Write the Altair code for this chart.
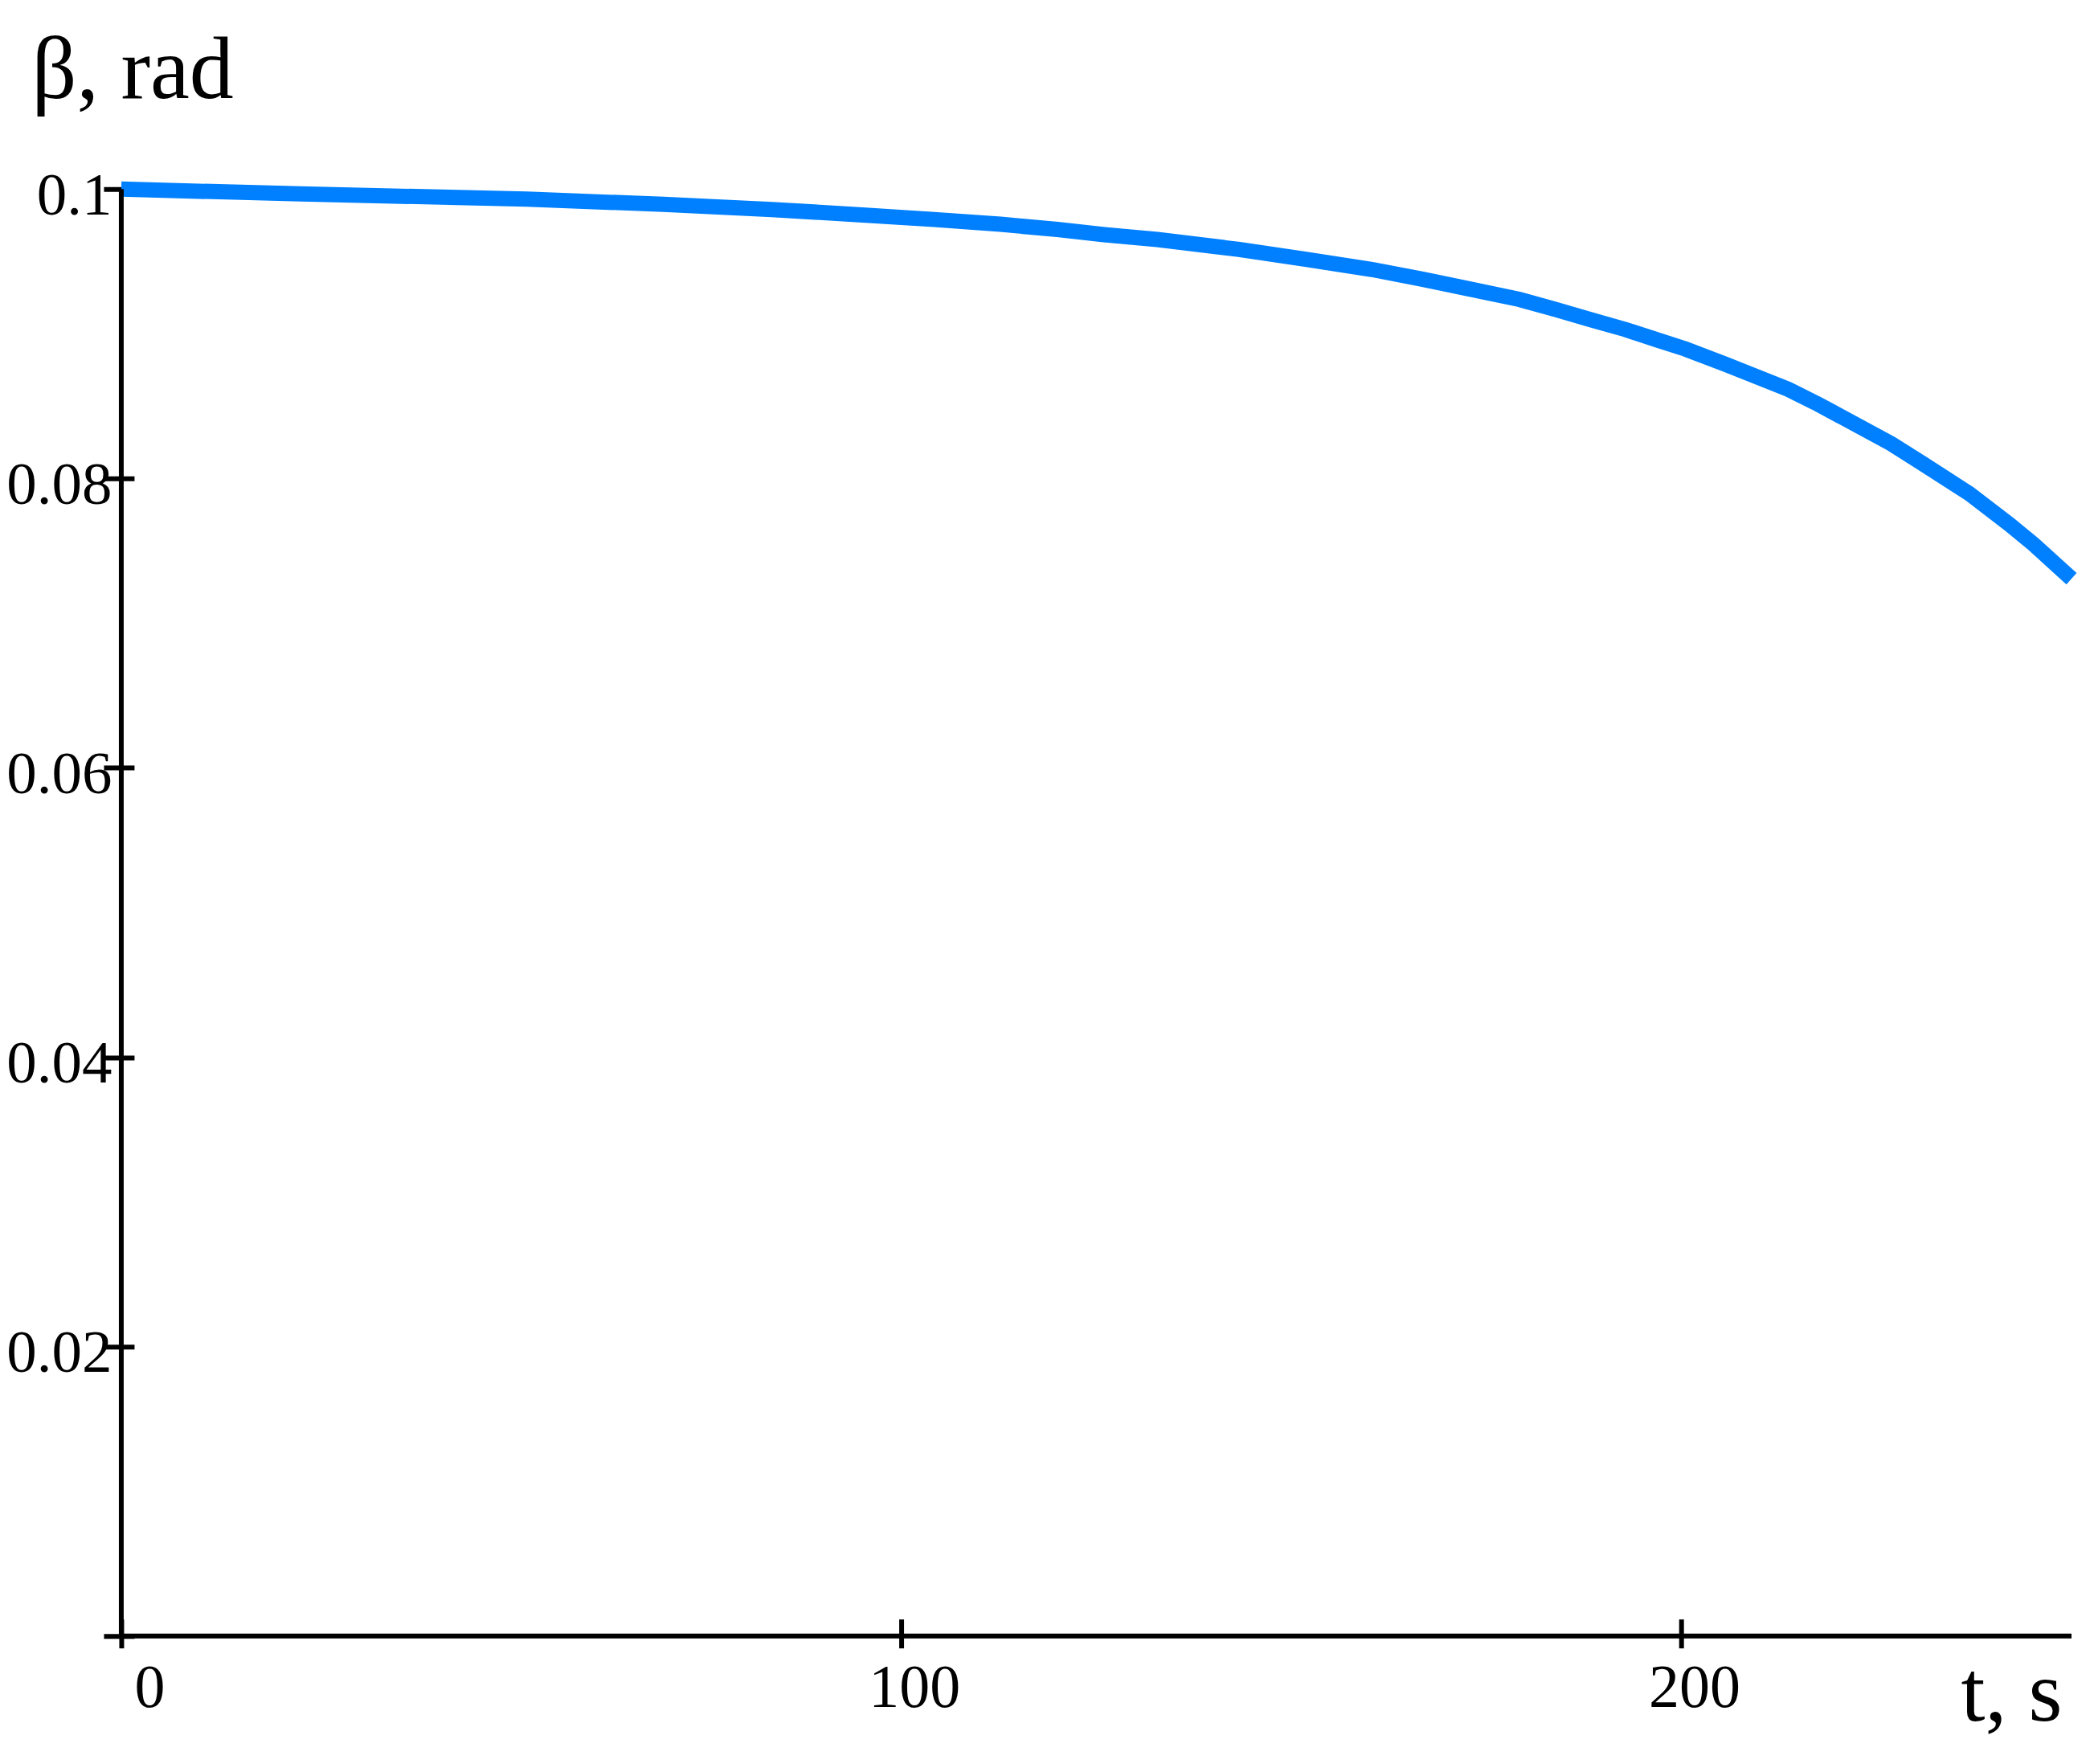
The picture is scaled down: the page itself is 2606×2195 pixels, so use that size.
import altair as alt
import pandas as pd

# Data
t_values = [0, 23, 52, 69.5, 83.4, 94.6, 104.2, 112.7, 120, 126, 132.8, 143.3,
            152, 160.3, 166.9, 173.1, 179.2, 183.8, 188.3, 192.8, 196.7, 200.5,
            205.6, 213.7, 217.5, 226.9, 231, 236.9, 242, 245.1, 250]
beta_values = [0.1000, 0.09967, 0.09931, 0.09895, 0.09859, 0.09823, 0.09790,
               0.09757, 0.09721, 0.09685, 0.09652, 0.09583, 0.09514, 0.09445,
               0.09376, 0.09307, 0.09238, 0.09169, 0.09099, 0.09030, 0.08961,
               0.08895, 0.08790, 0.08616, 0.08514, 0.08240, 0.08100, 0.07895,
               0.07685, 0.07547, 0.07307]
x_ticks = [0, 100, 200]
y_ticks = [0, 0.02, 0.04, 0.06, 0.08, 0.1]
x_domain = [0, 250]
y_domain = [0, 0.1]

W, H = 2428, 1801
FONT = "Liberation Serif"

df = pd.DataFrame({"t": t_values, "beta": beta_values})
one = pd.DataFrame({"k": [0]})

x_scale = alt.Scale(domain=x_domain, nice=False, zero=False)
y_scale = alt.Scale(domain=y_domain, nice=False)

x_axis = alt.Axis(
    values=x_ticks, title="t, s", offset=-21, tickSize=36, tickWidth=6,
    tickColor="black", domain=False, grid=False,
    labelFont=FONT, labelFontSize=76, labelColor="black", labelPadding=13,
    labelOffset=16, labelFlush=False, labelOverlap=False,
    labelAlign={"condition": {"test": "datum.value == 0", "value": "left"}, "value": "center"},
    titleFont=FONT, titleFontSize=108, titleFontWeight="normal", titleColor="black",
    titleAlign="right", titleBaseline="alphabetic", titleAnchor="end",
    titleX=2416, titleY=126,
)

y_axis = alt.Axis(
    values=y_ticks, title="β, rad", offset=-16, tickSize=38, tickWidth=6,
    tickColor="black", domain=False, grid=False,
    labelFont=FONT, labelFontSize=75, labelColor="black", labelPadding=-10,
    labelOffset=8, labelOverlap=False, labelBaseline="middle",
    labelExpr="datum.value == 0 ? '' : toString(round(datum.value*100)/100)",
    titleFont=FONT, titleFontSize=110, titleFontWeight="normal", titleColor="black",
    titleAngle=0, titleAlign="left", titleBaseline="alphabetic",
    titleX=-128, titleY=-114,
)

line = alt.Chart(df).mark_line(
    color="#0080ff", strokeWidth=19
).encode(
    x=alt.X("t:Q", scale=x_scale, axis=x_axis),
    y=alt.Y("beta:Q", scale=y_scale, axis=y_axis),
)

y_line = alt.Chart(one).mark_rule(color="black", strokeWidth=6).encode(
    x=alt.XDatum(x_domain[0]),
    y=alt.YDatum(y_domain[0]),
    y2=alt.Y2Datum(y_domain[1]),
)

x_line = alt.Chart(one).mark_rule(color="black", strokeWidth=6).encode(
    x=alt.XDatum(x_domain[0]),
    x2=alt.X2Datum(x_domain[1]),
    y=alt.YDatum(y_domain[0]),
)

chart = alt.layer(line, y_line, x_line).properties(
    width=W, height=H,
    padding={"left": 143, "top": 227, "right": 20, "bottom": 140},
    autosize=alt.AutoSizeParams(type="none"),
    background="white",
).configure_view(stroke=None)

chart.save("out.html", embed_options={"renderer": "svg", "actions": False})
